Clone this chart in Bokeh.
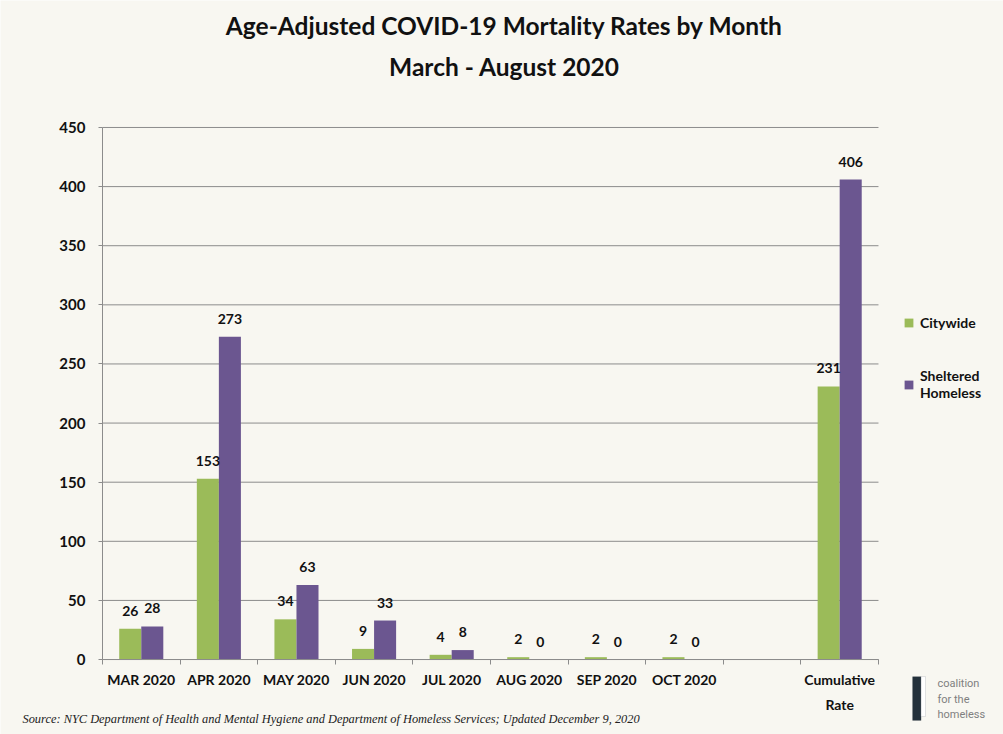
from bokeh.plotting import figure
from bokeh.models import (Range1d, FixedTicker, ColumnDataSource, LabelSet, Legend,
                          LegendItem, Label, BoxAnnotation)
from bokeh.core.properties import value
from bokeh.transform import dodge
from bokeh.embed import file_html
from bokeh.resources import INLINE

# ---- data ----
months = ["MAR 2020", "APR 2020", "MAY 2020", "JUN 2020", "JUL 2020",
          "AUG 2020", "SEP 2020", "OCT 2020", "", "Cumulative\nRate"]
citywide = [26, 153, 34, 9, 4, 2, 2, 2, None, 231]
sheltered = [28, 273, 63, 33, 8, 0, 0, 0, None, 406]
y_ticks = [0, 50, 100, 150, 200, 250, 300, 350, 400, 450]
series_names = ["Citywide", "Sheltered\nHomeless"]
title_line1 = "Age-Adjusted COVID-19 Mortality Rates by Month"
title_line2 = "March - August 2020"
source_note = ("Source: NYC Department of Health and Mental Hygiene and Department of "
               "Homeless Services; Updated December 9, 2020")
logo_lines = ["coalition", "for the", "homeless"]

GREEN = "#9bbb59"
PURPLE = "#6b5690"
BG = "#f8f7f1"
GRID = "#8c8c8c"
INK = "#111111"
FONT = "Lato"

n = len(months)
keep = [i for i in range(n) if citywide[i] is not None]
src = ColumnDataSource(dict(
    x=keep,
    city=[citywide[i] for i in keep],
    shel=[sheltered[i] for i in keep],
    city_lbl=[str(citywide[i]) for i in keep],
    shel_lbl=[str(sheltered[i]) for i in keep],
))

# frame covers the whole canvas; axes are pinned with fixed_location
p = figure(width=1003, height=734, output_backend="svg", toolbar_location=None,
           x_range=Range1d(-1.814, 11.111), y_range=Range1d(-63.4, 557.4),
           min_border=0, min_border_left=0, min_border_right=0,
           min_border_top=0, min_border_bottom=0,
           background_fill_color=BG, border_fill_color=BG,
           outline_line_color=None, title=None)
p.xgrid.visible = False
p.ygrid.visible = False

# horizontal grid lines across the category area
p.segment(x0=[-0.5] * len(y_ticks), x1=[n - 0.5] * len(y_ticks),
          y0=y_ticks, y1=y_ticks, line_color=GRID, line_width=1)

BW = 0.284
r1 = p.vbar(x=dodge("x", -BW / 2), top="city", width=BW, source=src,
            fill_color=GREEN, line_color=None)
r2 = p.vbar(x=dodge("x", BW / 2), top="shel", width=BW, source=src,
            fill_color=PURPLE, line_color=None)

for col, ycol, off in (("city_lbl", "city", -BW / 2), ("shel_lbl", "shel", BW / 2)):
    p.add_layout(LabelSet(x=dodge("x", off), y=ycol, text=col, source=src,
                          text_align="center", text_baseline="bottom", y_offset=13,
                          text_font=value(FONT), text_font_style="bold",
                          text_font_size="14px", text_color=INK))

# y axis
yt = FixedTicker(ticks=y_ticks)
ya = p.yaxis[0]
ya.ticker = yt
ya.fixed_location = -0.5
ya.bounds = (0, 450)
ya.axis_line_color = GRID
ya.major_tick_line_color = GRID
ya.major_tick_out = 4
ya.major_tick_in = 0
ya.minor_tick_line_color = None
ya.major_label_standoff = 13
ya.major_label_text_font = FONT
ya.major_label_text_font_style = "bold"
ya.major_label_text_font_size = "15px"
ya.major_label_text_color = INK

# x axis: labels at category centres, ticks at category boundaries
xt = FixedTicker(ticks=list(range(n)), minor_ticks=[i - 0.5 for i in range(n + 1)])
xa = p.xaxis[0]
xa.ticker = xt
xa.fixed_location = 0
xa.bounds = (-0.5, n - 0.5)
xa.major_label_overrides = {i: m for i, m in enumerate(months)}
xa.axis_line_color = GRID
xa.major_tick_line_color = None
xa.major_tick_out = 0
xa.major_tick_in = 0
xa.minor_tick_line_color = GRID
xa.minor_tick_out = 5
xa.minor_tick_in = 0
xa.major_label_standoff = 6
xa.major_label_text_font = FONT
xa.major_label_text_font_style = "bold"
xa.major_label_text_font_size = "14px"
xa.major_label_text_line_height = 1.5
xa.major_label_text_color = INK

# legend
legend = Legend(items=[LegendItem(label=series_names[0], renderers=[r1]),
                       LegendItem(label=series_names[1], renderers=[r2])],
                location=(903, 333), padding=0, margin=0, spacing=36,
                glyph_width=11, glyph_height=11, label_standoff=6,
                border_line_color=None, background_fill_alpha=0,
                label_text_font=FONT, label_text_font_style="bold",
                label_text_font_size="14px", label_text_line_height=1.6,
                label_text_color=INK)
p.add_layout(legend)

# titles
for txt, yy in ((title_line1, 536.3), (title_line2, 501.6)):
    p.add_layout(Label(x=4.68, y=yy, text=txt, text_align="center",
                       text_baseline="middle", text_font=FONT,
                       text_font_style="bold", text_font_size="24.5px",
                       text_color=INK))

# source note
p.add_layout(Label(x=-1.531, y=-49.9, text=source_note, text_baseline="middle",
                   text_font="Liberation Serif", text_font_style="italic",
                   text_font_size="12.4px", text_color="#222222"))

# logo
p.add_layout(BoxAnnotation(left=9.938, right=10.05, top=-14.4, bottom=-51.6,
                           fill_color="#23303a", fill_alpha=1, line_color=None))
p.add_layout(BoxAnnotation(left=10.05, right=10.106, top=-14.4, bottom=-48.2,
                           fill_color="#ffffff", fill_alpha=1,
                           line_color="#9aa3aa", line_width=1))
for t, yy in zip(logo_lines, (-20.3, -33.8, -46.5)):
    p.add_layout(Label(x=10.26, y=yy, text=t, text_baseline="middle",
                       text_font="Roboto", text_font_size="11px",
                       text_color="#808080"))

html = file_html(p, INLINE)
html = html.replace("<body>", '<body style="background:%s">' % BG, 1)
open("out.html", "w").write(html)
